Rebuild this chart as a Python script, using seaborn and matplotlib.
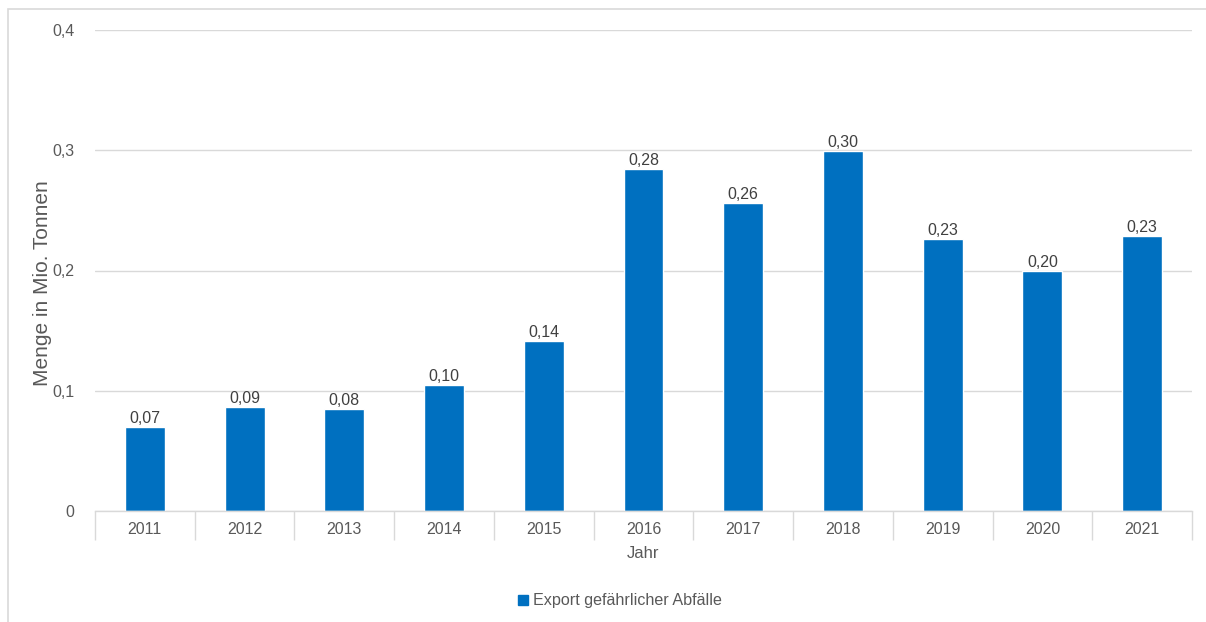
import matplotlib
matplotlib.use("Agg")
import matplotlib.pyplot as plt
import seaborn as sns
import pandas as pd
from matplotlib.patches import Rectangle
from matplotlib.ticker import FixedLocator
from matplotlib.lines import Line2D

years = ["2011", "2012", "2013", "2014", "2015", "2016", "2017", "2018", "2019", "2020", "2021"]
values = [0.0699, 0.0865, 0.0848, 0.1048, 0.1414, 0.2844, 0.2561, 0.2994, 0.2262, 0.1996, 0.2287]
labels = ["0,07", "0,09", "0,08", "0,10", "0,14", "0,28", "0,26", "0,30", "0,23", "0,20", "0,23"]
series = "Export gefährlicher Abfälle"
y_ticks = [0, 0.1, 0.2, 0.3, 0.4]
y_ticklabels = ["0", "0,1", "0,2", "0,3", "0,4"]

sns.set_theme(style="white")
plt.rcParams['font.family'] = ['Liberation Sans', 'DejaVu Sans']

W, H = 1206, 622
fig = plt.figure(figsize=(W / 100, H / 100), dpi=100)
ax = fig.add_axes([95 / W, 1 - 511 / H, (1192 - 95) / W, (511 - 30) / H])

df = pd.DataFrame({"Jahr": years, "Menge": values, "Serie": series})
sns.barplot(data=df, x="Jahr", y="Menge", hue="Serie", palette=["#0070C0"],
            width=0.4, ax=ax, legend=False, saturation=1)

txt = "#595959"
grid = "#d9d9d9"
ax.set_ylim(0, 0.4)
ax.set_xlim(-0.5, len(years) - 0.5)
ax.set_yticks(y_ticks)
ax.set_yticklabels(y_ticklabels, fontsize=11.5, color=txt)
ax.yaxis.grid(True, color=grid, linewidth=1)
ax.set_axisbelow(True)
for s in ["left", "right", "top"]:
    ax.spines[s].set_visible(False)
ax.spines["bottom"].set_color(grid)
ax.spines["bottom"].set_linewidth(1)
ax.tick_params(axis="y", length=0, pad=15)
ax.tick_params(axis="x", which="major", length=0, pad=8, labelsize=11.5, labelcolor=txt)
ax.xaxis.set_minor_locator(FixedLocator([i - 0.5 for i in range(len(years) + 1)]))
ax.tick_params(axis="x", which="minor", length=21, width=1, color=grid, bottom=True)

ax.set_xlabel("Jahr", fontsize=12, color=txt)
ax.xaxis.set_label_coords(0.5, -(553 - 511) / 481, transform=ax.transAxes)
ax.xaxis.label.set_verticalalignment("center")
ax.set_ylabel("Menge in Mio. Tonnen", fontsize=15, color=txt)
ax.yaxis.set_label_coords(-(95 - 43) / 1097, (511 - 283) / 481)
ax.yaxis.label.set_verticalalignment("center")

for cont in ax.containers:
    ax.bar_label(cont, labels=labels, padding=1, fontsize=11.5, color="#404040")

handle = Line2D([], [], marker="s", linestyle="none", markersize=7,
                markerfacecolor="#0070C0", markeredgecolor="#0070C0")
fig.legend([handle], [series], loc="center", bbox_to_anchor=(619 / W, 1 - 601 / H),
           frameon=False, fontsize=11.6, labelcolor=txt, handletextpad=0.2,
           handlelength=0.8)

fig.patches.append(Rectangle((8 / W, -0.05), 1.1, 1 - 9 / H + 0.05, transform=fig.transFigure,
                             fill=False, edgecolor="#d9d9d9", linewidth=1.2))

fig.savefig("out.png", dpi=100)
